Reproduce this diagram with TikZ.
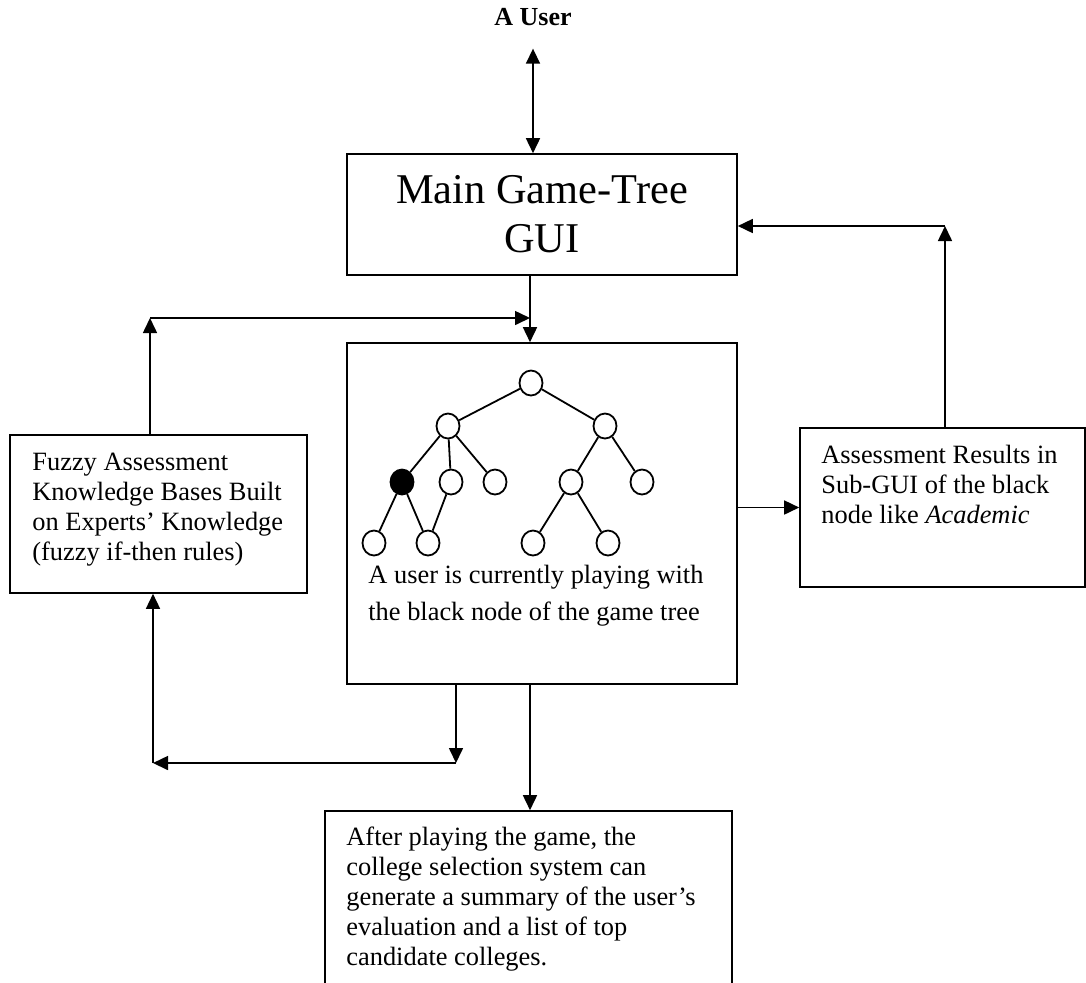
\documentclass[tikz,border=0pt]{standalone}
\usepackage{fontspec}
\setmainfont{Liberation Serif}
\usetikzlibrary{arrows.meta,shapes.geometric}

\begin{document}
\begin{tikzpicture}
          [x=0.5pt,y=-0.5pt,
           box/.style={draw,rectangle,line width=0.8pt,inner sep=0pt},
           tnode/.style={draw,ellipse,line width=0.9pt,inner sep=0pt,minimum width=11.5pt,minimum height=12.5pt},
           arr/.style={line width=0.8pt,-{Triangle[length=7.5pt,width=7pt]}},
           txt/.style={anchor=base west,inner sep=0pt,font=\fontsize{13.2pt}{15pt}\selectfont}]

          \useasboundingbox (0,0) rectangle (1086,982);

          % boxes
          \node[inner sep=0pt,anchor=base,font=\fontsize{13pt}{15pt}\selectfont\bfseries] (user) at (533,25) {A User};
          \node[box,minimum width=195pt,minimum height=60.5pt,align=center,
                font=\fontsize{21.2pt}{24.5pt}\selectfont] (main) at (542,214.5) {Main Game-Tree\\GUI};
          \node[box,minimum width=195pt,minimum height=170.5pt] (play) at (542,513.5) {};
          \node[box,minimum width=148.5pt,minimum height=79pt] (kb) at (158.5,514) {};
          \node[box,minimum width=142.5pt,minimum height=79.5pt] (res) at (942.5,507.5) {};
          \node[box,minimum width=203.5pt,minimum height=94.5pt] (sum) at (528.5,905.5) {};

          % texts in the boxes
          \node[txt] (kbtext) at (32,470) {\parbox[t]{160pt}{\raggedright
            Fuzzy Assessment\\Knowledge Bases Built\\on Experts’ Knowledge\\(fuzzy if-then rules)}};
          \node[txt] (restext) at (821,463) {\parbox[t]{160pt}{\raggedright
            Assessment Results in\\Sub-GUI of the black\\node like \textit{Academic}}};
          \node[txt,font=\fontsize{13.2pt}{18.5pt}\selectfont] (playtext) at (368,583) {\parbox[t]{190pt}{\raggedright
            A user is currently playing with\\the black node of the game tree}};
          \node[txt] (sumtext) at (346,845) {\parbox[t]{200pt}{\raggedright
            After playing the game, the\\college selection system can\\generate a summary of the user’s\\evaluation and a list of top\\candidate colleges.}};

          % game tree
          \node[tnode] (r) at (531,383) {};
          \node[tnode] (a) at (448,426) {};
          \node[tnode] (b) at (605,426) {};
          \node[tnode,fill=black] (a1) at (402,482) {};
          \node[tnode] (a2) at (451,482) {};
          \node[tnode] (a3) at (495,482) {};
          \node[tnode] (b1) at (571,482) {};
          \node[tnode] (b2) at (642,482) {};
          \node[tnode] (a11) at (374,543) {};
          \node[tnode] (a12) at (428,543) {};
          \node[tnode] (b11) at (533,543) {};
          \node[tnode] (b12) at (608,543) {};

          \draw[line width=0.9pt] (r) -- (a);
          \draw[line width=0.9pt] (r) -- (b);
          \draw[line width=0.9pt] (a) -- (a1);
          \draw[line width=0.9pt] (a) -- (a2);
          \draw[line width=0.9pt] (a) -- (a3);
          \draw[line width=0.9pt] (b) -- (b1);
          \draw[line width=0.9pt] (b) -- (b2);
          \draw[line width=0.9pt] (a1) -- (a11);
          \draw[line width=0.9pt] (a1) -- (a12);
          \draw[line width=0.9pt] (a2) -- (a12);
          \draw[line width=0.9pt] (b1) -- (b11);
          \draw[line width=0.9pt] (b1) -- (b12);

          % junctions of the connectors
          \coordinate (spine) at (530,0);
          \coordinate (kbup) at (150,318);
          \coordinate (kbin) at (kbup -| spine);
          \coordinate (fbr) at (456,763);
          \coordinate (fbl) at (153,763);
          \coordinate (resup) at (945,226);

          % connectors
          \draw[line width=0.8pt,{Triangle[length=7.5pt,width=7pt]}-{Triangle[length=7.5pt,width=7pt]},shorten <=11.5pt]
            (user.south) -- (user.south |- main.north);
          \draw[arr] (main.south -| spine) -- (play.north -| spine);
          \draw[arr] (kb.north -| kbup) -- (kbup);
          \draw[arr] (kbup) -- (kbin);
          \draw[arr] (play.east |- res.west) -- (res.west);
          \draw[arr] (res.north -| resup) -- (resup);
          \draw[arr] (resup) -- (main.east |- resup);
          \draw[arr] (play.south -| fbr) -- (fbr);
          \draw[arr] (fbr) -- (fbl);
          \draw[arr] (fbl) -- (kb.south -| fbl);
          \draw[arr] (play.south -| spine) -- (sum.north -| spine);
        \end{tikzpicture}
\end{document}
